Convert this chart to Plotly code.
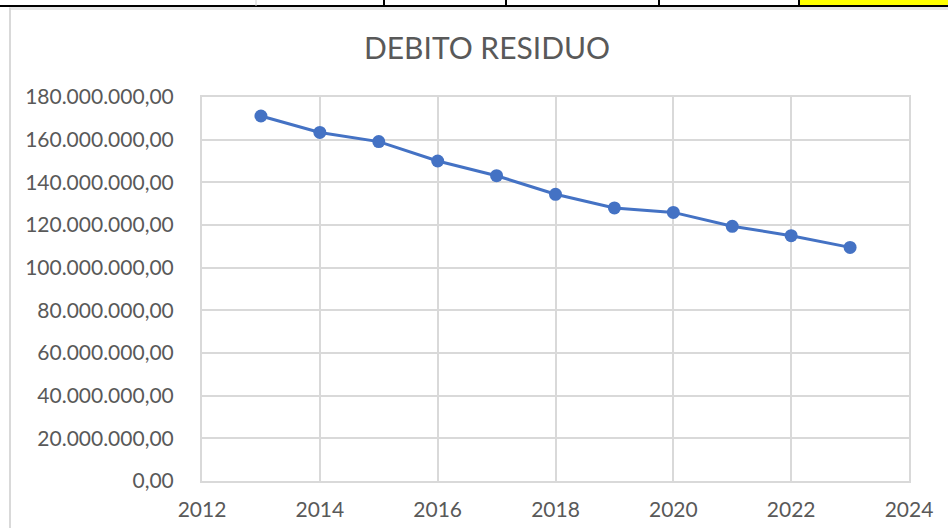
import plotly.graph_objects as go

years = [2013, 2014, 2015, 2016, 2017, 2018, 2019, 2020, 2021, 2022, 2023]
debito = [171.1e6, 163.4e6, 159.1e6, 150.0e6, 143.1e6, 134.4e6, 128.0e6, 125.9e6, 119.4e6, 115.0e6, 109.5e6]
title_text = "DEBITO RESIDUO"

W, H = 948, 528
def px(x):
    return x / W
def py(y):
    return 1 - y / H

fig = go.Figure()
fig.add_trace(go.Scatter(
    x=years, y=debito, mode="lines+markers",
    line=dict(color="#4472C4", width=3),
    marker=dict(color="#4472C4", size=13),
    hoverinfo="x+y",
))

grid = "#d9d9d9"
txt = "#595959"
font_family = "Lato, Calibri, sans-serif"

shapes = [
    # spreadsheet row above chart
    dict(type="rect", xref="paper", yref="paper", x0=px(799), x1=1, y0=py(5), y1=1,
         fillcolor="#ffff00", line=dict(width=0), layer="above"),
    dict(type="line", xref="paper", yref="paper", x0=0, x1=1, y0=py(6), y1=py(6),
         line=dict(color="#000000", width=2), layer="above"),
    dict(type="line", xref="paper", yref="paper", x0=px(256), x1=px(256), y0=py(6), y1=1,
         line=dict(color="#d0d0d0", width=1), layer="above"),
]
for xs in [384, 506, 659, 799]:
    shapes.append(dict(type="line", xref="paper", yref="paper", x0=px(xs), x1=px(xs), y0=py(6), y1=1,
                       line=dict(color="#000000", width=2), layer="above"))
# chart frame edges
shapes.append(dict(type="line", xref="paper", yref="paper", x0=px(9), x1=1, y0=py(8.5), y1=py(8.5),
                   line=dict(color="#e6e6e6", width=3), layer="above"))
shapes.append(dict(type="line", xref="paper", yref="paper", x0=px(10), x1=px(10), y0=py(8), y1=0,
                   line=dict(color="#d9d9d9", width=2), layer="above"))

fig.update_layout(
    width=W, height=H,
    margin=dict(l=0, r=0, t=0, b=0, autoexpand=False),
    paper_bgcolor="white", plot_bgcolor="white",
    separators=",.",
    showlegend=False,
    font=dict(family=font_family, color=txt, size=21),
    title=dict(text=title_text, x=487 / W, xanchor="center", y=py(48), yanchor="middle",
               automargin=False,
               font=dict(family=font_family, size=30, color=txt)),
    xaxis=dict(domain=[px(202), px(909)], range=[2012, 2024], dtick=2, tick0=2012,
               automargin=False,
               showgrid=True, gridcolor=grid, gridwidth=2,
               showline=True, linecolor=grid, linewidth=2, mirror=True,
               zeroline=False, ticks="", ticklabelstandoff=9,
               tickfont=dict(family=font_family, size=21, color=txt)),
    yaxis=dict(domain=[py(481), py(97)], range=[0, 180e6], dtick=20e6, tick0=0,
               tickformat=",.2f", automargin=False,
               showgrid=True, gridcolor=grid, gridwidth=2,
               showline=True, linecolor=grid, linewidth=2, mirror=True,
               zeroline=False, ticks="", ticklabelstandoff=22,
               tickfont=dict(family=font_family, size=21, color=txt)),
    shapes=shapes,
)

fig.write_html(
    "out.html",
    config={"displayModeBar": False},
    post_script="document.body.style.margin='0';document.body.style.overflow='hidden';",
)
